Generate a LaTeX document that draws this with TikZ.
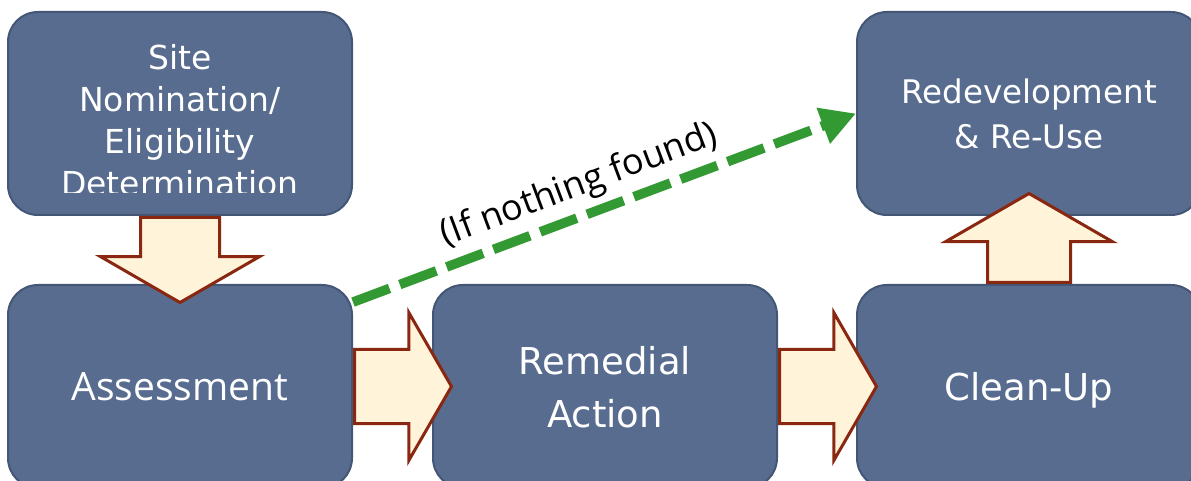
\documentclass[tikz,border=0pt]{standalone}
\usepackage{fontspec}
\usepackage{tikz}
\usetikzlibrary{shapes.arrows,arrows.meta}
\setmainfont{DejaVu Sans}
\newfontfamily\openfont{Open Sans}
\definecolor{boxblue}{RGB}{88,108,143}
\definecolor{boxline}{RGB}{68,86,118}
\definecolor{arrowfill}{RGB}{255,243,217}
\definecolor{arrowline}{RGB}{137,39,17}
\definecolor{pathgreen}{RGB}{51,153,51}
\newcommand{\topfont}{\fontsize{16.5}{21}\selectfont}
\newcommand{\lowfont}{\fontsize{18.5}{26.5}\selectfont}

\begin{document}
\begin{tikzpicture}[x=0.5pt,y=-0.5pt,
    stage/.style={draw=boxline, line width=1pt, fill=boxblue, rounded corners=15pt,
        minimum width=172pt, minimum height=101.5pt, inner sep=0pt,
        text=white, align=center, text depth=0pt},
    bigarrow/.style={single arrow, draw=arrowline, fill=arrowfill, line width=1.5pt,
        inner xsep=0pt, inner ysep=19pt, minimum width=78pt, single arrow head extend=20pt,
        single arrow tip angle=120, anchor=tail},
    nothingpath/.style={draw=pathgreen, line width=4.8pt, dash pattern=on 19.5pt off 5.5pt,
        -{Triangle[length=17.5pt,width=18pt]}}]
        \useasboundingbox (0,0) rectangle (1191,481);
        \clip (0,0) rectangle (1191,481);
        % boxes
        \node [stage] (site) at (180,113.5) {};
        \node [stage, font=\openfont\fontsize{19.5}{24}\selectfont] (ass) at (180,386.5) {Assessment};
        \node [stage, font=\lowfont] (rem) at (605,386.5) {Remedial\\Action};
        \node [stage, font=\lowfont] (clean) at (1029,386.5) {Clean-Up};
        \node [stage, font=\fontsize{16.25}{22.5}\selectfont] (redev) at (1029,113.5) {Redevelopment\\\& Re-Use};
        \begin{scope}
            \clip (8,12) rectangle (352,193);
            \node [text=white, align=center, text depth=0pt, font=\topfont] (sitetext) at (180,120)
                {Site\\Nomination/\\Eligibility\\Determination};
        \end{scope}
        % block arrows
        \node [bigarrow, rotate=-90, minimum height=42.5pt] (down) at (site.south) {};
        \node [bigarrow, minimum height=48.5pt, inner ysep=17.75pt, minimum width=72.5pt, single arrow head extend=18.5pt] (right1) at (ass.east) {};
        \node [bigarrow, minimum height=48.5pt, inner ysep=17.75pt, minimum width=72.5pt, single arrow head extend=18.5pt] (right2) at (rem.east) {};
        \node [bigarrow, rotate=90, minimum height=44.5pt, inner ysep=20pt, minimum width=82pt, single arrow head extend=21pt] (up) at (clean.north) {};
        % shortcut
        \draw [nothingpath] (ass.26) -- node [sloped, above, pos=0.47, text=black] (skip)
            {\openfont\fontsize{18}{22}\selectfont (If nothing found)} (redev.west);
\end{tikzpicture}
\end{document}
